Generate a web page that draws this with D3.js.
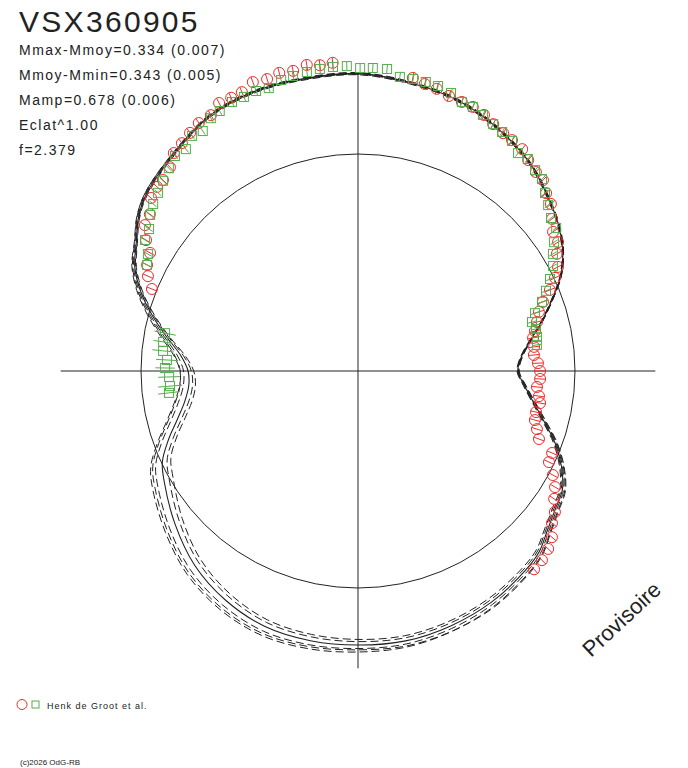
<!DOCTYPE html>
<html>
<head>
<meta charset="utf-8">
<script src="https://cdn.jsdelivr.net/npm/d3@7"></script>
<style>
  body { margin: 0; background: #ffffff; }
</style>
</head>
<body>
<script>
// ---- data (angles in degrees of phase, clockwise from top; radii relative to unit circle) ----
const titleText = "VSX360905";
const infoLines = [
  "Mmax-Mmoy=0.334 (0.007)",
  "Mmoy-Mmin=0.343 (0.005)",
  "Mamp=0.678 (0.006)",
  "Eclat^1.00",
  "f=2.379"
];
const legendLabel = "Henk de Groot et al.";
const copyrightText = "(c)2026 OdG-RB";
const stampText = "Provisoire";

const modelAngles = [0, 10, 20, 30, 40, 50, 55, 60, 65, 70, 75, 80, 85, 90, 95, 100, 105, 110, 115, 120,
  125, 130, 135, 140, 150, 160, 170, 180, 190, 200, 210, 220, 230, 240, 245, 250, 255, 260, 265, 270,
  275, 280, 285, 290, 295, 300, 305, 310, 320, 330, 340, 350];
const modelRadius = [1.37, 1.35, 1.33, 1.29, 1.24, 1.17, 1.135, 1.09, 1.03, 0.95, 0.876, 0.806, 0.756, 0.737, 0.77, 0.82, 0.886, 0.966, 1.034, 1.088,
  1.11, 1.14, 1.18, 1.20, 1.23, 1.25, 1.263, 1.263, 1.262, 1.253, 1.22, 1.17, 1.10, 1.03, 0.995, 0.93, 0.862, 0.811, 0.783, 0.783,
  0.82, 0.894, 0.98, 1.065, 1.135, 1.18, 1.235, 1.272, 1.313, 1.36, 1.373, 1.369];

// spread of the dashed model variants (radius offsets) read at a few phases
const spreadAngles = [0, 30, 60, 90, 120, 150, 180, 210, 240, 260, 280, 300, 330, 360];
const dashedSpreads = [
  [0.005, 0.006, 0.004, 0.004, 0.012, 0.022, 0.032, 0.05, 0.062, 0.05, 0.022, 0.008, 0.006, 0.005],
  [0.003, 0.003, 0.002, 0.002, 0.006, 0.011, 0.016, 0.026, 0.035, 0.03, 0.012, 0.004, 0.003, 0.003],
  [-0.003, -0.003, -0.002, -0.002, -0.006, -0.011, -0.016, -0.022, -0.026, -0.02, -0.01, -0.003, -0.003, -0.003],
  [-0.005, -0.006, -0.004, -0.004, -0.012, -0.021, -0.026, -0.036, -0.046, -0.036, -0.016, -0.006, -0.006, -0.005],
  [0.001, 0.002, 0.003, 0.006, 0.016, 0.026, 0.022, 0.04, 0.05, 0.045, 0.03, 0.01, 0.002, 0.001]
];

const redAngles = [10.6, 13.1, 15.6, 18.3, 21.1, 23.5, 26.2, 28.7, 31.4, 33.7, 36.5, 38.9, 41.8, 44.1, 46.6, 49.1,
  51.9, 54.5, 57.2, 59.5, 62.5, 64.7, 67.1, 69.5, 71.9, 74.7, 77.3, 79.3, 82.2, 84.8, 87.5, 90.0, 92.5, 95.1,
  97.9, 100.0, 103.0, 105.5, 108.0, 110.6, 112.9, 115.5, 118.1, 120.5, 123.1, 125.6, 128.1, 130.6, 133.1,
  135.8, 138.4,
  291.7, 294.3, 296.7, 299.6, 301.7, 304.4, 307.0, 309.9, 312.5, 314.4, 317.3, 319.8, 322.3, 324.8, 327.3,
  330.1, 332.6, 335.1, 337.4, 340.0, 342.7, 345.2, 347.8, 350.5, 352.9, 355.3];
const redRadius = [1.374, 1.358, 1.350, 1.335, 1.329, 1.327, 1.315, 1.297, 1.284, 1.279, 1.272, 1.249, 1.230, 1.225, 1.193, 1.176,
  1.136, 1.104, 1.097, 1.064, 1.039, 1.004, 0.960, 0.910, 0.877, 0.855, 0.836, 0.821, 0.819, 0.814, 0.830, 0.839, 0.840, 0.828,
  0.842, 0.852, 0.842, 0.846, 0.867, 0.891, 0.971, 0.975, 1.018, 1.054, 1.079, 1.116, 1.136, 1.177, 1.200,
  1.216, 1.222,
  1.022, 1.062, 1.088, 1.102, 1.148, 1.190, 1.201, 1.243, 1.256, 1.258, 1.278, 1.315, 1.327, 1.343, 1.358,
  1.360, 1.391, 1.388, 1.392, 1.417, 1.409, 1.421, 1.415, 1.430, 1.420, 1.425];
const redError = 0.025;

const greenAngles = [263.4, 265.4, 268.2, 270.9, 273.3, 275.9, 278.5, 281.1,
  296.7, 299.1, 301.6, 304.2, 306.9, 309.2, 311.7, 314.3, 317.0, 319.6, 322.2, 324.8, 327.1, 329.8, 332.0,
  334.9, 337.4, 340.0, 342.5, 345.2, 347.6, 350.3, 352.8, 355.3, 357.9,
  0.4, 2.8, 5.5, 8.1, 10.7, 13.2, 15.7, 18.5, 21.1, 23.5, 26.0, 28.7, 31.1, 33.8, 36.3, 38.7, 41.4, 43.8,
  46.4, 48.9, 51.6, 54.2, 56.7, 59.0, 61.7, 64.4, 66.9, 69.4, 71.9, 74.3, 76.7, 79.2, 81.7];
const greenRadius = [0.877, 0.869, 0.871, 0.889, 0.882, 0.903, 0.908, 0.906,
  1.088, 1.108, 1.152, 1.164, 1.198, 1.218, 1.234, 1.255, 1.278, 1.301, 1.294, 1.326, 1.317, 1.348, 1.357,
  1.369, 1.368, 1.373, 1.367, 1.387, 1.392, 1.398, 1.403, 1.406, 1.406,
  1.396, 1.398, 1.398, 1.369, 1.369, 1.368, 1.364, 1.351, 1.329, 1.327, 1.313, 1.297, 1.286, 1.276, 1.246,
  1.252, 1.234, 1.225, 1.190, 1.163, 1.135, 1.126, 1.081, 1.048, 1.021, 0.981, 0.942, 0.906, 0.858, 0.833,
  0.843, 0.840, 0.833];
const greenError = [0.05, 0.055, 0.05, 0.045, 0.05, 0.05, 0.045, 0.05,
  0.02, 0.02, 0.02, 0.02, 0.02, 0.02, 0.02, 0.02, 0.02, 0.02, 0.02, 0.02, 0.02, 0.02, 0.02,
  0.02, 0.02, 0.02, 0.02, 0.02, 0.02, 0.02, 0.02, 0.02, 0.02,
  0.02, 0.02, 0.02, 0.02, 0.02, 0.02, 0.02, 0.02, 0.02, 0.02, 0.02, 0.02, 0.02, 0.02, 0.02, 0.02,
  0.02, 0.02, 0.02, 0.02, 0.02, 0.02, 0.02, 0.02, 0.02, 0.02, 0.02, 0.02, 0.02, 0.02, 0.02, 0.02, 0.02];

const axisExtent = 1.37;

// ---- layout ----
const width = 688;
const height = 768;
const cx = 358;
const cy = 371;
const ink = "#222222";
const red = "#ee2b2b";
const green = "#52b04a";
const font = "'Liberation Sans', Arial, sans-serif";

const svg = d3
  .select("body")
  .append("svg")
  .attr("width", width)
  .attr("height", height)
  .style("display", "block")
  .style("background", "#ffffff");

const rScale = d3.scaleLinear().domain([0, 1]).range([0, 217]);
const angleScale = d3.scaleLinear().domain([0, 360]).range([0, 2 * Math.PI]);

const plot = svg.append("g").attr("transform", `translate(${cx}, ${cy})`);

// axes
const ext = rScale(axisExtent);
plot
  .append("line")
  .attr("x1", -ext)
  .attr("x2", ext)
  .attr("y1", 0)
  .attr("y2", 0)
  .attr("stroke", ink)
  .attr("stroke-width", 1);
plot
  .append("line")
  .attr("x1", 0)
  .attr("x2", 0)
  .attr("y1", -ext)
  .attr("y2", ext)
  .attr("stroke", ink)
  .attr("stroke-width", 1);

// reference circle
plot
  .append("circle")
  .attr("r", rScale(1))
  .attr("fill", "none")
  .attr("stroke", ink)
  .attr("stroke-width", 1);

// model curves
const modelPoints = modelAngles.map((a, i) => ({ a, r: modelRadius[i] }));
const radialLine = d3
  .lineRadial()
  .angle((d) => angleScale(d.a))
  .radius((d) => rScale(d.r))
  .curve(d3.curveCatmullRomClosed);

dashedSpreads.forEach((spread) => {
  const spreadScale = d3.scaleLinear().domain(spreadAngles).range(spread);
  const pts = modelPoints.map((d) => ({ a: d.a, r: d.r + spreadScale(d.a) }));
  plot
    .append("path")
    .attr("d", radialLine(pts))
    .attr("fill", "none")
    .attr("stroke", ink)
    .attr("stroke-width", 1)
    .attr("stroke-dasharray", "8,4");
});

plot
  .append("path")
  .attr("d", radialLine(modelPoints))
  .attr("fill", "none")
  .attr("stroke", ink)
  .attr("stroke-width", 1.1);

// observations
function errorLine(g, a, r, e, color) {
  const p0 = d3.pointRadial(angleScale(a), rScale(r - e));
  const p1 = d3.pointRadial(angleScale(a), rScale(r + e));
  g.append("line")
    .attr("x1", p0[0])
    .attr("y1", p0[1])
    .attr("x2", p1[0])
    .attr("y2", p1[1])
    .attr("stroke", color)
    .attr("stroke-width", 1);
}

const redLayer = plot.append("g");
redAngles.forEach((a, i) => {
  const p = d3.pointRadial(angleScale(a), rScale(redRadius[i]));
  redLayer
    .append("circle")
    .attr("cx", p[0])
    .attr("cy", p[1])
    .attr("r", 5.5)
    .attr("fill", "none")
    .attr("stroke", red)
    .attr("stroke-width", 1);
  errorLine(redLayer, a, redRadius[i], redError, red);
});

const greenLayer = plot.append("g");
greenAngles.forEach((a, i) => {
  const p = d3.pointRadial(angleScale(a), rScale(greenRadius[i]));
  greenLayer
    .append("rect")
    .attr("x", p[0] - 4.5)
    .attr("y", p[1] - 4.5)
    .attr("width", 9)
    .attr("height", 9)
    .attr("fill", "none")
    .attr("stroke", green)
    .attr("stroke-width", 1);
  errorLine(greenLayer, a, greenRadius[i], greenError[i], green);
});

// texts
svg
  .append("text")
  .attr("x", 19)
  .attr("y", 32)
  .attr("font-family", font)
  .attr("font-size", 30)
  .attr("letter-spacing", 2.3)
  .attr("fill", ink)
  .text(titleText);

svg
  .append("g")
  .selectAll("text")
  .data(infoLines)
  .join("text")
  .attr("x", 19)
  .attr("y", (d, i) => 55 + i * 25)
  .attr("font-family", font)
  .attr("font-size", 14)
  .attr("letter-spacing", 1.5)
  .attr("fill", ink)
  .text((d) => d);

// legend
svg
  .append("circle")
  .attr("cx", 22)
  .attr("cy", 704.5)
  .attr("r", 5)
  .attr("fill", "none")
  .attr("stroke", red)
  .attr("stroke-width", 1);
svg
  .append("rect")
  .attr("x", 32)
  .attr("y", 701)
  .attr("width", 7)
  .attr("height", 7)
  .attr("fill", "none")
  .attr("stroke", green)
  .attr("stroke-width", 1);
svg
  .append("text")
  .attr("x", 47)
  .attr("y", 709)
  .attr("font-family", font)
  .attr("font-size", 9)
  .attr("letter-spacing", 1)
  .attr("fill", ink)
  .text(legendLabel);

svg
  .append("text")
  .attr("x", 20)
  .attr("y", 765)
  .attr("font-family", font)
  .attr("font-size", 8)
  .attr("fill", ink)
  .text(copyrightText);

svg
  .append("text")
  .attr("transform", "translate(591, 658) rotate(-43)")
  .attr("font-family", font)
  .attr("font-size", 22)
  .attr("fill", ink)
  .text(stampText);
</script>
</body>
</html>
